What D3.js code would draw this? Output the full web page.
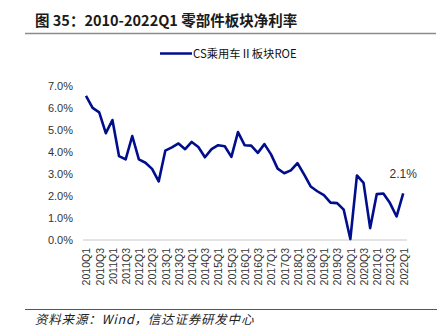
<!DOCTYPE html>
<html><head><meta charset="utf-8">
<script src="https://cdn.jsdelivr.net/npm/d3@7"></script>
<style>body{margin:0;background:#fff}svg{display:block}</style>
</head><body>
<svg id="c" width="442" height="334"></svg>
<script>
const categories = [];
for (let y = 2010; y <= 2022; y++) for (let q = 1; q <= 4; q++) { if (y === 2022 && q > 1) break; categories.push(y + "Q" + q); }
const roe = [6.55,6.0,5.8,4.85,5.45,3.8,3.65,4.72,3.65,3.5,3.22,2.65,4.05,4.2,4.38,4.12,4.45,4.22,3.75,4.12,4.3,4.25,3.77,4.9,4.3,4.28,3.95,4.35,3.88,3.23,3.02,3.15,3.48,2.97,2.42,2.2,2.02,1.68,1.66,1.36,0.02,2.92,2.58,0.52,2.07,2.1,1.66,1.05,2.1];
const yTicks = [0,1,2,3,4,5,6,7];
const xTickLabels = categories.filter((d,i)=>i%2===0);
const seriesName = "CS乘用车Ⅱ板块ROE";
const titleText = "图 35：2010-2022Q1 零部件板块净利率";
const sourceText = "资料来源：Wind，信达证券研发中心";
const lastLabel = "2.1%";

const svg = d3.select("#c");
const x = d3.scalePoint().domain(categories).range([86, 403.2]);
const y = d3.scaleLinear().domain([0,7]).range([239.5, 86]);

// title
svg.append("text").attr("x",35).attr("y",26).attr("font-family","'Noto Sans CJK SC','Liberation Sans',sans-serif")
  .attr("font-weight","bold").attr("font-size",14.5).attr("fill","#1a1a1a").text(titleText);
svg.append("line").attr("x1",25).attr("x2",436).attr("y1",33.5).attr("y2",33.5).attr("stroke","#8c8c8c").attr("stroke-width",1.5);

// legend
svg.append("line").attr("x1",160).attr("x2",192).attr("y1",53.5).attr("y2",53.5).attr("stroke","#000e8c").attr("stroke-width",2.5);
svg.append("text").attr("x",193).attr("y",57.5).attr("font-family","'Noto Sans CJK SC',sans-serif")
  .attr("font-size",11.3).attr("fill","#111").text(seriesName);

// y axis labels
const yAxis = d3.axisLeft(y).tickValues(yTicks).tickSize(0).tickPadding(0).tickFormat(d=>d3.format(".1f")(d)+"%");
const gy = svg.append("g").attr("transform","translate(73,0)").call(yAxis);
gy.select(".domain").remove();
gy.selectAll("text").attr("font-family","'Liberation Sans',Arial,sans-serif").attr("font-size",11).attr("fill","#333");

// baseline
svg.append("line").attr("x1",83).attr("x2",407).attr("y1",y(0)+0.5).attr("y2",y(0)+0.5).attr("stroke","#c8c8c8").attr("stroke-width",1);

// x axis labels
const xAxis = d3.axisBottom(x).tickValues(xTickLabels).tickSize(0).tickPadding(0);
const gx = svg.append("g").attr("transform","translate(0,246)").call(xAxis);
gx.select(".domain").remove();
gx.selectAll("text").attr("font-family","'Liberation Sans',Arial,sans-serif").attr("font-size",10.5).attr("fill","#333")
  .attr("text-anchor","end").attr("dy",null).attr("y",0)
  .attr("transform","rotate(-90) translate(-2,3.8)");

// line
const line = d3.line().x((d,i)=>x(categories[i])).y(d=>y(d));
svg.append("path").datum(roe).attr("d",line).attr("fill","none").attr("stroke","#000e8c").attr("stroke-width",2.6).attr("stroke-linejoin","round");

// last label
svg.append("text").attr("x",x(categories[categories.length-1])).attr("y",y(roe[roe.length-1])-15)
  .attr("text-anchor","middle").attr("font-family","'Liberation Sans',Arial,sans-serif").attr("font-size",12).attr("fill","#333").text(lastLabel);

// bottom line and source
svg.append("line").attr("x1",25).attr("x2",437).attr("y1",309.5).attr("y2",309.5).attr("stroke","#555").attr("stroke-width",1);
svg.append("text").attr("x",35).attr("y",324).attr("font-family","'Noto Sans CJK SC',sans-serif").attr("font-style","italic")
  .attr("font-size",12.5).attr("letter-spacing",0.8).attr("fill","#222").text(sourceText);
</script>
</body></html>
